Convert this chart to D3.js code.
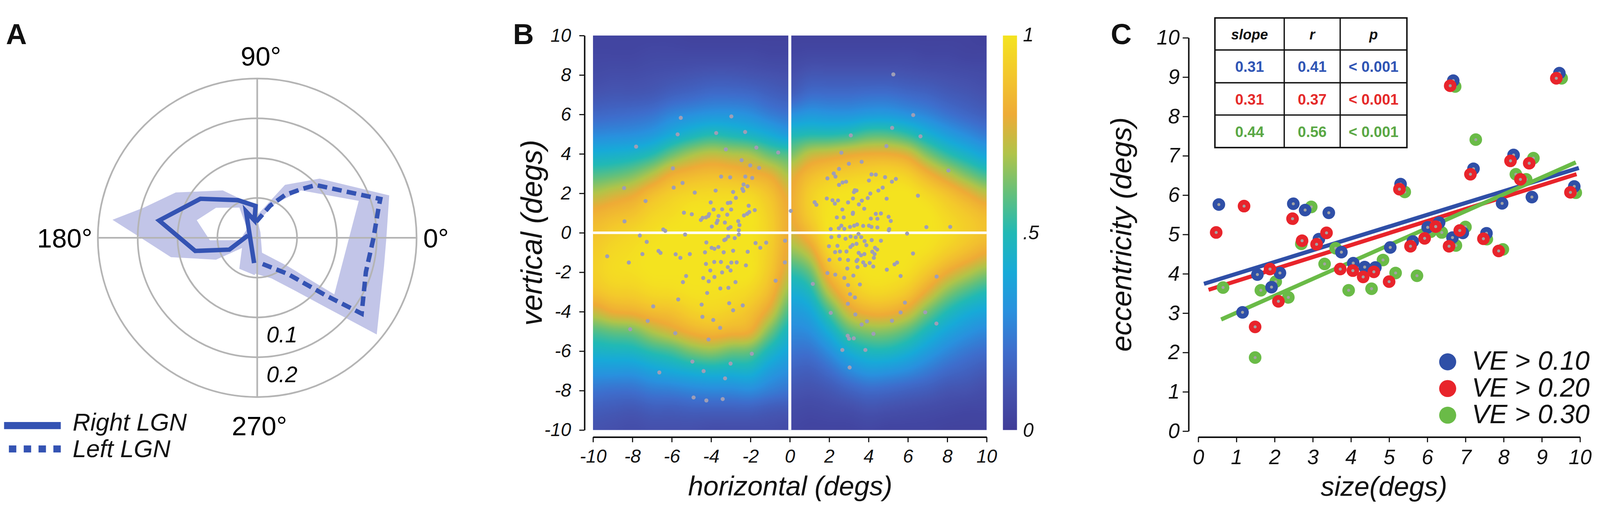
<!DOCTYPE html>
<html>
<head>
<meta charset="utf-8">
<script src="https://cdn.jsdelivr.net/npm/d3@7"></script>
<style>
  html, body { margin: 0; padding: 0; background: #fff; overflow: hidden; }
  svg { display: block; width: 100vw; height: 100vh; font-family: "Liberation Sans", Arial, sans-serif; }
</style>
</head>
<body>
<svg id="fig" viewBox="0 0 4317 1332" preserveAspectRatio="xMidYMid meet"></svg>
<script>
// ---------------- data ----------------
// A: polar plot, [angle in degrees, radius]
const polarRings = [0.05, 0.1, 0.15, 0.2];
const polarRadiusLabels = ["0.1", "0.2"];
const rightLGN = [[166,0.012],[203,0.038],[192,0.0795],[170,0.125],[145.5,0.0865],[117,0.053],[93,0.040],[99,0.022],[113,0.036],[263,0.032]];
const leftLGN = [[94,0.020],[68,0.0435],[57,0.064],[48,0.082],[42,0.099],[17.5,0.162],[14,0.157],[0,0.146],[-17.5,0.143],[-36,0.162],[-40,0.113],[-50,0.059],[-83,0.032]];
const rightBandOuter = [[110,0.050],[126,0.0735],[150.9,0.117],[165,0.147],[172.9,0.183],[180.3,0.145],[192.7,0.111],[208,0.0586],[214,0.023],[240,0.045],[266,0.047],[285,0.025],[60,0.008],[95.8,0.041]];
const rightBandHole = [[120.6,0.044],[143.9,0.064],[163.8,0.079],[183,0.0595],[188,0.022],[137.6,0.017]];
const leftBandOuter = [[91,0.028],[62.3,0.075],[43.5,0.108],[17.8,0.174],[-0.5,0.162],[-12.5,0.163],[-39,0.193],[-45.2,0.124],[-54,0.083],[-70.7,0.054],[-107,0.044],[-122,0.038],[-158,0.012]];
const leftBandHole = [[92,0.0186],[63.4,0.0467],[47.3,0.081],[20,0.1356],[-36.3,0.12],[-43,0.052],[-82,0.017]];
const legendA = ["Right LGN", "Left LGN"];

// B: coverage map, columns of values for y = 10 .. -10
const fieldY = [10,9,8,7,6,5,4,3,2,1,0,-1,-2,-3,-4,-5,-6,-7,-8,-9,-10];
const leftFieldX = [-10,-9,-8,-7,-6,-5,-4,-3,-2,-1,0];
const rightFieldX = [0,1,2,3,4,5,6,7,8,9,10];
const leftField = [
  [.04,.05,.07,.11,.18,.28,.42,.56,.70,.82,.88,.92,.93,.88,.74,.57,.45,.33,.22,.14,.10],
  [.04,.05,.08,.12,.19,.29,.43,.58,.74,.85,.92,.96,.97,.92,.80,.60,.46,.33,.21,.13,.09],
  [.04,.05,.08,.12,.20,.30,.45,.62,.78,.88,.95,.98,.98,.93,.82,.62,.47,.33,.21,.12,.08],
  [.04,.06,.09,.13,.22,.33,.50,.70,.86,.94,.98,1,1,.96,.86,.70,.52,.37,.24,.14,.09],
  [.04,.06,.10,.16,.27,.40,.60,.80,.92,.97,1,1,1,.97,.88,.76,.56,.40,.25,.14,.09],
  [.03,.06,.11,.18,.30,.46,.68,.84,.95,1,1,1,1,.99,.93,.82,.63,.43,.27,.15,.09],
  [.03,.06,.12,.20,.32,.50,.72,.86,.96,1,1,1,1,.99,.95,.85,.66,.45,.28,.15,.08],
  [.03,.06,.12,.20,.32,.48,.70,.85,.96,1,1,1,1,.98,.93,.83,.62,.44,.28,.15,.08],
  [.03,.06,.11,.19,.30,.45,.68,.82,.95,1,1,1,1,.95,.88,.80,.60,.44,.29,.15,.08],
  [.03,.05,.10,.16,.25,.40,.60,.78,.88,.92,.93,.92,.90,.85,.76,.62,.47,.35,.25,.13,.08],
  [.03,.05,.09,.14,.22,.34,.56,.68,.77,.80,.80,.78,.74,.66,.56,.46,.38,.30,.22,.12,.07]
];
const rightField = [
  [.03,.05,.09,.15,.30,.48,.62,.76,.80,.80,.75,.65,.52,.42,.34,.28,.22,.16,.11,.07,.05],
  [.03,.06,.12,.20,.33,.50,.72,.85,.92,.92,.86,.74,.60,.48,.38,.30,.22,.15,.10,.06,.04],
  [.03,.06,.12,.20,.32,.50,.75,.90,.98,1,1,.95,.85,.72,.56,.42,.30,.20,.12,.07,.04],
  [.03,.06,.12,.20,.32,.52,.78,.92,1,1,1,1,.96,.88,.75,.58,.42,.28,.16,.08,.04],
  [.03,.06,.12,.21,.34,.57,.80,.94,1,1,1,1,1,.95,.82,.64,.48,.33,.19,.10,.05],
  [.03,.06,.12,.21,.34,.57,.80,.95,1,1,1,1,1,.95,.82,.64,.48,.32,.18,.09,.04],
  [.03,.06,.11,.19,.31,.52,.76,.92,1,1,1,1,.98,.90,.76,.58,.43,.29,.16,.08,.04],
  [.03,.05,.10,.17,.27,.43,.63,.82,.95,1,1,.98,.90,.78,.62,.47,.35,.24,.14,.07,.04],
  [.03,.05,.09,.14,.22,.35,.52,.72,.88,.95,.97,.92,.80,.65,.50,.38,.28,.19,.11,.06,.03],
  [.03,.04,.08,.12,.18,.29,.44,.62,.80,.90,.92,.86,.72,.56,.42,.32,.23,.16,.10,.05,.03],
  [.02,.04,.07,.10,.15,.24,.37,.54,.72,.85,.88,.80,.65,.50,.38,.28,.20,.13,.08,.05,.03]
];
const cmapStops = [0, .1, .2, .3, .4, .5, .6, .7, .8, .9, 1];
const cmapColors = ["#403c97","#4552ae","#3e6dcc","#2990de","#17aad8","#21b9b5","#64c07b","#b0c449","#eeab36","#f3c72c","#f4e31f"];
const fieldTicks = [-10,-8,-6,-4,-2,0,2,4,6,8,10];
const colorbarTicks = [0, 0.5, 1];
const colorbarLabels = ["0", ".5", "1"];
const leftDots = [
[-5.54,5.83],[-2.97,5.90],[-5.70,4.99],[-3.74,5.06],[-2.27,5.11],[-7.81,4.37],[-1.70,4.32],[-0.59,4.07],[-3.25,4.23],[-2.45,3.68],[-5.94,3.27],[-2.01,3.42],[-1.56,3.29],[-8.42,2.27],[-5.90,2.29],[-5.45,2.53],[-3.77,2.14],[-3.49,2.85],[-3.03,2.81],[-2.26,2.85],[-1.91,2.78],[-4.83,2.04],[-2.88,2.07],[-2.35,2.45],[-2.41,2.23],[-2.15,2.36],[-2.36,2.12],[-7.33,1.61],[-4.02,1.54],[-3.15,1.51],[-3.02,1.53],[-2.74,1.77],[-3.87,1.18],[-3.44,1.19],[-2.98,1.18],[-2.09,1.37],[-5.38,1.02],[-4.98,0.94],[-4.10,0.95],[-4.14,0.85],[-4.52,0.65],[-4.43,0.76],[-4.26,0.78],[-3.62,0.85],[-3.18,0.92],[-2.33,0.88],[-2.17,0.96],[-2.06,1.05],[-1.78,1.15],[-3.67,0.62],[-3.72,0.50],[-3.30,0.52],[-2.62,0.59],[-2.56,0.39],[-8.40,0.58],[-6.43,0.17],[-6.33,0.10],[-3.96,0.32],[-3.12,0.22],[-3.01,0.29],[-2.59,0.13],[-5.32,-0.09],[-7.62,-0.14],[-7.27,-0.46],[-3.33,-0.37],[-3.26,-0.33],[-3.13,-0.19],[-2.80,-0.27],[-2.59,-0.09],[-1.74,-0.52],[-1.20,-0.50],[-1.50,-0.76],[-4.24,-0.49],[-3.83,-0.81],[-3.97,-0.76],[-3.63,-0.72],[-6.67,-0.92],[-6.57,-1.02],[-7.49,-1.08],[-5.80,-1.09],[-5.08,-1.08],[-4.31,-0.99],[-3.36,-0.99],[-2.88,-0.91],[-2.14,-0.96],[-9.28,-1.19],[-5.56,-1.27],[-8.18,-1.51],[-4.26,-1.58],[-3.84,-1.48],[-3.50,-1.48],[-2.97,-1.51],[-2.70,-1.50],[-3.15,-1.74],[-4.04,-1.91],[-3.44,-2.01],[-3.01,-1.91],[-2.23,-1.65],[-3.83,-2.24],[-5.27,-2.19],[-5.43,-2.50],[-4.40,-2.29],[-2.76,-2.50],[-4.12,-2.46],[-3.12,-2.79],[-3.53,-2.82],[-4.20,-3.05],[-5.67,-3.38],[-4.48,-3.64],[-3.08,-3.57],[-2.88,-3.93],[-2.39,-3.68],[-4.44,-4.26],[-3.89,-4.42],[-6.94,-3.73],[-7.22,-4.47],[-3.54,-4.82],[-8.11,-4.89],[-5.82,-5.09],[-4.13,-5.41],[-0.72,-2.43],[-0.25,-1.50],[-0.24,-0.40],[-1.93,-6.13],[-4.95,-6.53],[-3.01,-6.63],[-4.38,-7.01],[-6.63,-7.08],[-3.29,-7.38],[-4.89,-8.35],[-4.24,-8.50],[-3.41,-8.43]
];
const rightDots = [
[5.26,8.03],[6.27,5.97],[5.20,5.32],[3.10,4.94],[6.64,4.89],[4.91,4.40],[2.62,4.06],[3.65,3.60],[3.00,3.50],[2.50,3.24],[2.23,3.01],[2.32,2.85],[1.91,2.76],[4.15,2.96],[4.37,2.95],[4.84,2.82],[5.39,2.73],[5.19,2.59],[4.02,2.65],[2.50,2.43],[2.68,2.55],[2.86,2.59],[3.30,2.16],[3.39,2.14],[3.26,2.06],[4.50,2.14],[4.72,2.29],[1.88,1.74],[2.17,1.65],[2.45,1.64],[3.66,1.63],[4.09,1.99],[3.96,1.76],[4.92,1.73],[6.51,1.88],[1.26,1.55],[1.35,1.42],[2.29,1.48],[3.21,1.74],[2.96,1.54],[2.67,1.18],[3.51,1.44],[3.78,1.22],[3.21,1.02],[3.20,0.96],[4.37,0.96],[4.63,0.98],[5.02,0.81],[2.39,0.78],[2.74,0.78],[4.12,0.72],[4.45,0.71],[3.42,0.42],[2.62,0.36],[3.73,0.35],[3.27,0.36],[2.49,0.23],[2.77,0.20],[3.06,0.30],[4.02,0.36],[4.15,0.30],[5.13,0.60],[4.45,0.27],[5.05,0.19],[2.08,0.19],[5.03,0.13],[6.94,0.29],[2.11,-0.22],[3.35,-0.23],[3.49,-0.06],[3.63,-0.22],[3.09,-0.19],[2.50,-0.17],[2.83,-0.30],[3.80,-0.42],[4.16,-0.37],[4.63,-0.40],[5.96,-0.04],[1.99,-0.68],[2.42,-0.66],[3.19,-0.62],[3.39,-0.56],[3.08,-0.72],[3.89,-0.63],[4.33,-0.76],[4.44,-0.85],[2.30,-0.98],[2.55,-0.95],[2.88,-0.95],[3.50,-1.02],[3.79,-1.08],[3.62,-1.14],[4.19,-0.96],[4.31,-1.08],[2.01,-1.37],[2.54,-1.34],[2.96,-1.38],[3.44,-1.37],[3.39,-1.44],[3.73,-1.50],[4.27,-1.27],[4.06,-1.53],[6.26,-1.05],[5.32,-1.60],[5.45,-1.51],[2.92,-1.81],[3.44,-1.74],[3.83,-1.65],[4.24,-1.71],[4.93,-1.87],[5.63,-2.19],[1.91,-2.04],[2.31,-2.12],[2.77,-2.29],[3.23,-2.17],[3.56,-2.62],[2.96,-2.65],[7.46,-2.22],[3.06,-3.11],[3.31,-3.28],[2.95,-3.60],[1.17,-2.59],[5.85,-3.54],[2.08,-4.06],[3.33,-4.14],[5.63,-4.04],[6.88,-4.03],[7.45,-4.60],[3.65,-4.65],[3.92,-4.49],[5.19,-4.46],[4.25,-5.12],[2.94,-5.22],[3.01,-5.37],[3.25,-5.35],[2.67,-5.94],[3.84,-5.94],[3.04,-6.83],[0.05,1.11],[8.06,3.16],[8.15,0.30]
];

// C: size vs eccentricity
const sizeTicks = [0,1,2,3,4,5,6,7,8,9,10];
const eccTicks = [0,1,2,3,4,5,6,7,8,9,10];
const ve10 = [[0.54,5.76],[1.16,3.02],[1.55,3.98],[1.92,3.66],[2.14,4.02],[2.49,5.78],[2.80,5.62],[3.16,4.88],[3.42,5.55],[3.75,4.55],[4.06,4.27],[4.36,4.17],[4.64,4.16],[5.03,4.67],[5.30,6.28],[5.62,4.82],[6.01,5.18],[6.31,5.30],[6.66,4.92],[6.68,8.91],[6.93,5.04],[7.21,6.67],[7.55,5.03],[7.96,5.79],[8.26,7.02],[8.74,5.95],[9.46,9.10],[9.85,6.22]];
const ve20 = [[0.47,5.05],[1.20,5.72],[1.49,2.65],[1.88,4.12],[2.10,3.30],[2.47,5.40],[2.72,4.84],[3.10,4.75],[3.36,5.04],[3.72,4.12],[4.05,4.08],[4.32,3.92],[4.60,4.05],[5.00,3.80],[5.27,6.15],[5.56,4.70],[5.93,4.90],[6.22,5.20],[6.57,4.70],[6.60,8.78],[6.85,5.10],[7.13,6.53],[7.47,4.89],[7.87,4.58],[8.18,6.87],[8.44,6.40],[8.67,6.81],[9.38,8.97],[9.75,6.07]];
const ve30 = [[0.65,3.65],[1.49,1.87],[1.64,3.58],[2.03,3.80],[2.36,3.40],[2.96,5.70],[2.70,4.76],[3.31,4.25],[3.60,4.65],[3.94,3.58],[4.54,3.62],[4.84,4.35],[5.17,4.02],[5.41,6.08],[5.73,3.95],[6.09,5.07],[6.38,5.05],[6.75,4.72],[6.73,8.76],[7.00,5.19],[7.27,7.41],[7.56,4.88],[7.98,4.62],[8.32,6.53],[8.59,6.40],[8.78,6.94],[9.52,8.97],[9.89,6.06]];
const fitSlope = [0.30, 0.305, 0.43];
const fitIntercept = [3.70, 3.51, 2.58];
const fitRange = [[0.15, 9.97], [0.27, 9.91], [0.6, 9.89]];
const tableHeader = ["slope", "r", "p"];
const tableRows = [["0.31","0.41","< 0.001"],["0.31","0.37","< 0.001"],["0.44","0.56","< 0.001"]];
const legendC = ["VE > 0.10", "VE > 0.20", "VE > 0.30"];

// ---------------- drawing ----------------
const svg = d3.select("#fig");
const ink = "#111";
const lgnBlue = "#3453b3";
const veColors = ["#2f4fa7", "#e8242b", "#6abb47"];
const tableColors = ["#2f55b5", "#e52a2a", "#5aa845"];

svg.append("rect").attr("width", 4317).attr("height", 1332).attr("fill", "#fff");

// panel letters
[["A", 16], ["B", 1384], ["C", 2997]].forEach(([t, x]) => {
  svg.append("text").attr("x", x).attr("y", 83).text(t)
    .style("font-size", "78px").style("font-weight", "bold").attr("fill", ink);
});

// ===== A =====
const cx = 694, cy = 606, R = 430;
const rScale = d3.scaleLinear().domain([0, 0.2]).range([0, R]);
const toRad = d => (90 - d) * Math.PI / 180;
const openRadial = d3.lineRadial().angle(d => toRad(d[0])).radius(d => rScale(d[1]));
const closedRadial = d3.lineRadial().angle(d => toRad(d[0])).radius(d => rScale(d[1])).curve(d3.curveLinearClosed);
const gA = svg.append("g").attr("transform", `translate(${cx},${cy})`);

gA.append("path").attr("d", closedRadial(rightBandOuter) + closedRadial(rightBandHole))
  .attr("fill", "#c2c5e8").attr("fill-rule", "evenodd");
gA.append("path").attr("d", closedRadial(leftBandOuter) + closedRadial(leftBandHole))
  .attr("fill", "#c2c5e8").attr("fill-rule", "evenodd");

gA.selectAll(".ring").data(polarRings).enter().append("circle")
  .attr("r", d => rScale(d)).attr("fill", "none").attr("stroke", "#b4b4b4").attr("stroke-width", 4.5);
gA.append("line").attr("x1", -R).attr("x2", R).attr("stroke", "#b4b4b4").attr("stroke-width", 4.5);
gA.append("line").attr("y1", -R).attr("y2", R).attr("stroke", "#b4b4b4").attr("stroke-width", 4.5);

gA.append("path").attr("d", openRadial(rightLGN)).attr("fill", "none")
  .attr("stroke", lgnBlue).attr("stroke-width", 12).attr("stroke-linejoin", "miter");
gA.append("path").attr("d", openRadial(leftLGN)).attr("fill", "none")
  .attr("stroke", lgnBlue).attr("stroke-width", 12).attr("stroke-dasharray", "26 14");

const angleFont = "72px";
gA.append("text").attr("x", R + 18).attr("y", 26).text("0°").style("font-size", angleFont);
gA.append("text").attr("x", -R - 15).attr("y", 26).attr("text-anchor", "end").text("180°").style("font-size", angleFont);
gA.append("text").attr("x", 10).attr("y", -R - 35).attr("text-anchor", "middle").text("90°").style("font-size", angleFont);
gA.append("text").attr("x", 6).attr("y", R + 103).attr("text-anchor", "middle").text("270°").style("font-size", angleFont);

polarRadiusLabels.forEach((t, i) => {
  gA.append("text").attr("x", 25).attr("y", rScale(0.125 + i * 0.05) + 14)
    .text(t).style("font-size", "60px").style("font-style", "italic");
});

// legend A
svg.append("line").attr("x1", 11).attr("x2", 164).attr("y1", 1113).attr("y2", 1113)
  .attr("stroke", lgnBlue).attr("stroke-width", 19);
svg.append("line").attr("x1", 24).attr("x2", 168).attr("y1", 1176).attr("y2", 1176)
  .attr("stroke", lgnBlue).attr("stroke-width", 19).attr("stroke-dasharray", "20 20");
legendA.forEach((t, i) => {
  svg.append("text").attr("x", 196).attr("y", 1127 + i * 71).text(t)
    .style("font-size", "66px").style("font-style", "italic").attr("fill", ink);
});

// ===== B =====
const bx = d3.scaleLinear().domain([-10, 10]).range([1600, 2662]);
const by = d3.scaleLinear().domain([-10, 10]).range([1125, 60]);
const cmap = d3.scaleLinear().domain(cmapStops).range(cmapColors).interpolate(d3.interpolateRgb).clamp(true);
const lut = d3.range(256).map(i => d3.rgb(cmap(i / 255)));

function catmull(p0, p1, p2, p3, t) {
  return 0.5 * ((2 * p1) + (-p0 + p2) * t + (2 * p0 - 5 * p1 + 4 * p2 - p3) * t * t + (-p0 + 3 * p1 - 3 * p2 + p3) * t * t * t);
}
function sampleField(cols, xs, x, y) {
  const nx = xs.length, ny = fieldY.length;
  const fx = Math.max(0, Math.min(nx - 1.0001, x - xs[0]));
  const fy = Math.max(0, Math.min(ny - 1.0001, fieldY[0] - y));
  const i = Math.floor(fx), j = Math.floor(fy), tx = fx - i, ty = fy - j;
  const g = (a, b) => cols[Math.max(0, Math.min(nx - 1, a))][Math.max(0, Math.min(ny - 1, b))];
  const rows = [-1, 0, 1, 2].map(dj => catmull(g(i - 1, j + dj), g(i, j + dj), g(i + 1, j + dj), g(i + 2, j + dj), tx));
  return catmull(rows[0], rows[1], rows[2], rows[3], ty);
}
function drawField(cols, xs) {
  const px0 = Math.round(bx(xs[0])), px1 = Math.round(bx(xs[xs.length - 1]));
  const py0 = Math.round(by(10)), py1 = Math.round(by(-10));
  const w = px1 - px0, h = py1 - py0;
  const cv = document.createElement("canvas");
  cv.width = w; cv.height = h;
  const ctx = cv.getContext("2d");
  const img = ctx.createImageData(w, h);
  for (let j = 0; j < h; j++) {
    const y = by.invert(py0 + j + 0.5);
    for (let i = 0; i < w; i++) {
      const x = bx.invert(px0 + i + 0.5);
      let v = sampleField(cols, xs, x, y);
      v = Math.max(0, Math.min(1, v));
      const c = lut[Math.round(v * 255)];
      const k = (j * w + i) * 4;
      img.data[k] = c.r; img.data[k + 1] = c.g; img.data[k + 2] = c.b; img.data[k + 3] = 255;
    }
  }
  ctx.putImageData(img, 0, 0);
  svg.append("image").attr("x", px0).attr("y", py0).attr("width", w).attr("height", h)
    .attr("preserveAspectRatio", "none").attr("href", cv.toDataURL());
}
drawField(leftField, leftFieldX);
drawField(rightField, rightFieldX);

svg.append("line").attr("x1", bx(0)).attr("x2", bx(0)).attr("y1", by(10)).attr("y2", by(-10))
  .attr("stroke", "#fff").attr("stroke-width", 8);
svg.append("line").attr("x1", bx(-10)).attr("x2", bx(10)).attr("y1", by(0)).attr("y2", by(0))
  .attr("stroke", "#fff").attr("stroke-width", 7);

svg.append("g").selectAll("circle").data(leftDots.concat(rightDots)).enter().append("circle")
  .attr("cx", d => bx(d[0])).attr("cy", d => by(d[1])).attr("r", 5.5).attr("fill", "#9e9eb6");

function styleAxis(g, size) {
  g.select(".domain").attr("stroke", ink).attr("stroke-width", 4);
  g.selectAll(".tick line").attr("stroke", ink).attr("stroke-width", 3);
  g.selectAll(".tick text").attr("fill", ink).style("font-size", size).style("font-style", "italic")
    .style("font-family", "'Liberation Sans', Arial, sans-serif");
}
const bYAxis = svg.append("g").attr("transform", "translate(1577,0)")
  .call(d3.axisLeft(by).tickValues(fieldTicks).tickSize(14).tickSizeOuter(0).tickPadding(22).tickFormat(d => String(d)));
styleAxis(bYAxis, "50px");
const bXAxis = svg.append("g").attr("transform", "translate(0,1144)")
  .call(d3.axisBottom(bx).tickValues(fieldTicks).tickSize(14).tickSizeOuter(0).tickPadding(20).tickFormat(d => String(d)));
styleAxis(bXAxis, "50px");

svg.append("text").attr("x", 2132).attr("y", 1302).attr("text-anchor", "middle")
  .text("horizontal (degs)").style("font-size", "74px").style("font-style", "italic").attr("fill", ink);
svg.append("text").attr("transform", `translate(1462,${by(0)}) rotate(-90)`).attr("text-anchor", "middle")
  .text("vertical (degs)").style("font-size", "80px").style("font-style", "italic").attr("fill", ink);

// colorbar
const cbar = d3.scaleLinear().domain([0, 1]).range([1125, 60]);
const grad = svg.append("defs").append("linearGradient").attr("id", "cbarGrad")
  .attr("x1", "0%").attr("y1", "100%").attr("x2", "0%").attr("y2", "0%");
cmapStops.forEach((s, i) => grad.append("stop").attr("offset", `${s * 100}%`).attr("stop-color", cmapColors[i]));
svg.append("rect").attr("x", 2706).attr("y", cbar(1)).attr("width", 38).attr("height", cbar(0) - cbar(1))
  .attr("fill", "url(#cbarGrad)");
colorbarTicks.forEach((t, i) => {
  svg.append("text").attr("x", 2760).attr("y", cbar(t) + (t === 1 ? 16 : 18)).text(colorbarLabels[i])
    .style("font-size", "52px").style("font-style", "italic").attr("fill", ink);
});

// ===== C =====
const sx = d3.scaleLinear().domain([0, 10]).range([3233, 4263]);
const sy = d3.scaleLinear().domain([0, 10]).range([1128, 66]);

const cYAxis = svg.append("g").attr("transform", "translate(3207,0)")
  .call(d3.axisLeft(sy).tickValues(eccTicks).tickSize(16).tickSizeOuter(0).tickPadding(8).tickFormat(d => String(d)));
styleAxis(cYAxis, "56px");
const cXAxis = svg.append("g").attr("transform", "translate(0,1144)")
  .call(d3.axisBottom(sx).tickValues(sizeTicks).tickSize(14).tickSizeOuter(0).tickPadding(20).tickFormat(d => String(d)));
styleAxis(cXAxis, "56px");

svg.append("text").attr("x", 3734).attr("y", 1303).attr("text-anchor", "middle")
  .text("size(degs)").style("font-size", "74px").style("font-style", "italic").attr("fill", ink);
svg.append("text").attr("transform", `translate(3052,${sy(5)}) rotate(-90)`).attr("text-anchor", "middle")
  .text("eccentricity (degs)").style("font-size", "78px").style("font-style", "italic").attr("fill", ink);

// regression lines
fitSlope.forEach((m, i) => {
  const [x0, x1] = fitRange[i];
  svg.append("line")
    .attr("x1", sx(x0)).attr("y1", sy(fitIntercept[i] + m * x0))
    .attr("x2", sx(x1)).attr("y2", sy(fitIntercept[i] + m * x1))
    .attr("stroke", veColors[i]).attr("stroke-width", 11);
});

// points: green first, then blue, then red on top
[[ve30, 2], [ve10, 0], [ve20, 1]].forEach(([pts, ci]) => {
  const g = svg.append("g");
  g.selectAll(".pt").data(pts).enter().append("circle")
    .attr("cx", d => sx(d[0])).attr("cy", d => sy(d[1])).attr("r", 17).attr("fill", veColors[ci]);
  g.selectAll(".ctr").data(pts).enter().append("circle")
    .attr("cx", d => sx(d[0])).attr("cy", d => sy(d[1])).attr("r", 4).attr("fill", "#a3a3a3");
});

// legend C
legendC.forEach((t, i) => {
  svg.append("circle").attr("cx", 3906).attr("cy", 941 + i * 72).attr("r", 23).attr("fill", veColors[i]);
  svg.append("text").attr("x", 3971).attr("y", 962 + i * 72.5).text(t)
    .style("font-size", "72px").style("font-style", "italic").attr("fill", ink);
});

// table
const tX = [3278, 3465, 3616, 3796];
const tY = [12.5, 99, 187.5, 274.5, 362.5];
const tg = svg.append("g");
tg.append("rect").attr("x", tX[0]).attr("y", tY[0]).attr("width", tX[3] - tX[0]).attr("height", tY[4] - tY[0])
  .attr("fill", "#fff").attr("stroke", ink).attr("stroke-width", 4);
[tX[1], tX[2]].forEach(x => tg.append("line").attr("x1", x).attr("x2", x).attr("y1", tY[0]).attr("y2", tY[4])
  .attr("stroke", ink).attr("stroke-width", 3.5));
[tY[1], tY[2], tY[3]].forEach(y => tg.append("line").attr("x1", tX[0]).attr("x2", tX[3]).attr("y1", y).attr("y2", y)
  .attr("stroke", ink).attr("stroke-width", 3.5));
tableHeader.forEach((h, j) => {
  tg.append("text").attr("x", (tX[j] + tX[j + 1]) / 2).attr("y", 70).attr("text-anchor", "middle").text(h)
    .style("font-size", "38px").style("font-weight", "bold").style("font-style", "italic").attr("fill", ink);
});
tableRows.forEach((row, i) => {
  row.forEach((v, j) => {
    tg.append("text").attr("x", (tX[j] + tX[j + 1]) / 2).attr("y", (tY[i + 1] + tY[i + 2]) / 2 + 15)
      .attr("text-anchor", "middle").text(v)
      .style("font-size", "40px").style("font-weight", "bold").attr("fill", tableColors[i]);
  });
});
</script>
</body>
</html>
